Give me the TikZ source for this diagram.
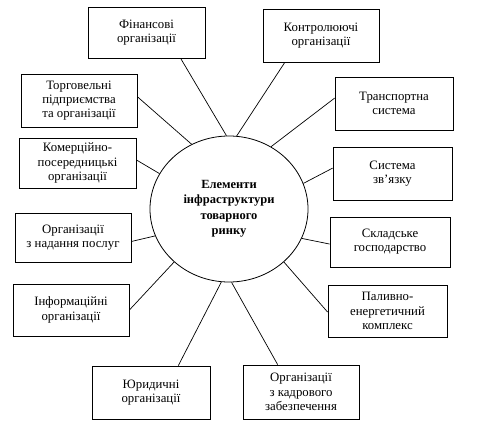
\documentclass[tikz,border=0pt]{standalone}
\usepackage{fontspec}
\setmainfont{Liberation Serif}
\usetikzlibrary{shapes.geometric,calc}
\begin{document}
\begin{tikzpicture}[x=1pt,y=-1pt,
  box/.style={draw,line width=0.8pt,inner sep=0pt,align=center,
    font=\fontsize{12.8}{14.2}\selectfont},
  hub/.style={draw,ellipse,line width=0.8pt,inner sep=0pt,align=center,
    minimum width=158pt,minimum height=146pt,
    font=\fontsize{12.5}{15.5}\selectfont\bfseries},
  link/.style={line width=0.7pt}]
\useasboundingbox[fill=white] (0,0) rectangle (500,434);
\node[hub] (el) at (229,209) {Елементи\\інфраструктури\\товарного\\ринку};
\node[box,minimum width=117pt,minimum height=51pt] (fin) at (146.5,32.5) {Фінансові\\організації};
\node[box,minimum width=116pt,minimum height=53pt] (kon) at (321,35.5) {Контролюючі\\організації};
\node[box,minimum width=116pt,minimum height=53pt] (torg) at (79,100.5) {Торговельні\\підприємства\\та організації};
\node[box,minimum width=117pt,minimum height=50pt] (kom) at (77.5,163) {Комерційно-\\посередницькі\\організації};
\node[box,minimum width=118pt,minimum height=53pt] (tra) at (394,103.5) {Транспортна\\система};
\node[box,minimum width=119pt,minimum height=53pt] (zv) at (392.5,173.5) {Система\\зв’язку};
\node[box,minimum width=116pt,minimum height=49pt] (pos) at (73,237.5) {Організації\\з надання послуг};
\node[box,minimum width=116pt,minimum height=52pt] (inf) at (71,310) {Інформаційні\\організації};
\node[box,minimum width=118pt,minimum height=53pt] (yur) at (151,392.5) {Юридичні\\організації};
\node[box,minimum width=116pt,minimum height=54pt] (kad) at (301,392) {Організації\\з кадрового\\забезпечення};
\node[box,minimum width=120pt,minimum height=50pt] (skl) at (390,242) {Складське\\господарство};
\node[box,minimum width=119pt,minimum height=52pt] (pal) at (387.5,311) {Паливно-\\енергетичний\\комплекс};
\draw[link] ($(fin.south west)!0.79!(fin.south east)$) -- (el.92);
\draw[link] ($(kon.south west)!0.19!(kon.south east)$) -- (el.84);
\draw[link] ($(torg.north east)!0.43!(torg.south east)$) -- (el.120);
\draw[link] ($(kom.north east)!0.44!(kom.south east)$) -- (el.153);
\draw[link] ($(tra.north west)!0.40!(tra.south west)$) -- (el.56);
\draw[link] ($(zv.north west)!0.40!(zv.south west)$) -- (el.19);
\draw[link] ($(pos.north east)!0.58!(pos.south east)$) -- (el.200);
\draw[link] ($(inf.north east)!0.5!(inf.south east)$) -- (el.224);
\draw[link] ($(yur.north west)!0.73!(yur.north east)$) -- (el.264);
\draw[link] ($(kad.north west)!0.30!(kad.north east)$) -- (el.272);
\draw[link] ($(skl.north west)!0.54!(skl.south west)$) -- (el.338);
\draw[link] ($(pal.north west)!0.52!(pal.south west)$) -- (el.316);
\end{tikzpicture}
\end{document}
